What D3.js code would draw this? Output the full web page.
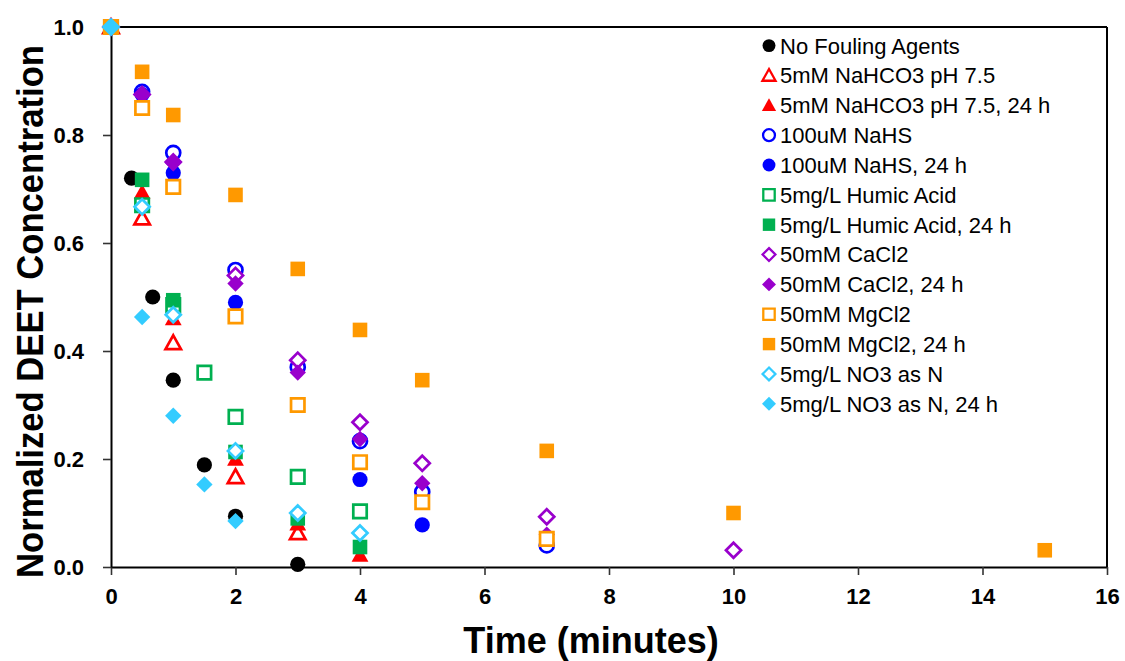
<!DOCTYPE html>
<html>
<head>
<meta charset="utf-8">
<script src="https://cdn.jsdelivr.net/npm/d3@7"></script>
<style>
  html, body { margin: 0; padding: 0; background: #fff; }
  svg { display: block; font-family: "Liberation Sans", Arial, sans-serif; }
</style>
</head>
<body>
<svg id="chart" width="1125" height="661"></svg>
<script>
// Time points (minutes) and normalized DEET concentration for each condition
const noFoulT   = [0, 0.33, 0.67, 1, 1.5, 2, 3];
const noFoulC   = [1.0, 0.72, 0.50, 0.346, 0.189, 0.094, 0.005];
const nahco3T   = [0, 0.5, 1, 2, 3];
const nahco3C   = [1.0, 0.646, 0.415, 0.167, 0.063];
const nahco324T = [0, 0.5, 1, 2, 3, 4];
const nahco324C = [1.0, 0.694, 0.46, 0.20, 0.08, 0.022];
const nahsT     = [0, 0.5, 1, 2, 3, 4, 5, 7];
const nahsC     = [1.0, 0.88, 0.767, 0.55, 0.37, 0.233, 0.139, 0.04];
const nahs24T   = [0, 0.5, 1, 2, 4, 5];
const nahs24C   = [1.0, 0.875, 0.73, 0.49, 0.162, 0.078];
const humicT    = [0, 0.5, 1, 1.5, 2, 3, 4];
const humicC    = [1.0, 0.67, 0.485, 0.36, 0.278, 0.167, 0.103];
const humic24T  = [0, 0.5, 1, 2, 3, 4];
const humic24C  = [1.0, 0.717, 0.494, 0.213, 0.09, 0.037];
const cacl2T    = [0, 0.5, 1, 2, 3, 4, 5, 7, 10];
const cacl2C    = [1.0, 0.875, 0.75, 0.54, 0.383, 0.268, 0.192, 0.093, 0.031];
const cacl224T  = [0, 0.5, 1, 2, 3, 4, 5, 7];
const cacl224C  = [1.0, 0.874, 0.748, 0.525, 0.36, 0.237, 0.155, 0.06];
const mgcl2T    = [0, 0.5, 1, 2, 3, 4, 5, 7];
const mgcl2C    = [1.0, 0.85, 0.704, 0.464, 0.30, 0.194, 0.12, 0.052];
const mgcl224T  = [0, 0.5, 1, 2, 3, 4, 5, 7, 10, 15];
const mgcl224C  = [1.0, 0.917, 0.837, 0.689, 0.552, 0.439, 0.346, 0.215, 0.10, 0.031];
const no3T      = [0, 0.5, 1, 2, 3, 4];
const no3C      = [1.0, 0.667, 0.467, 0.215, 0.10, 0.063];
const no324T    = [0, 0.5, 1, 1.5, 2];
const no324C    = [1.0, 0.463, 0.28, 0.153, 0.085];

const seriesNames = [
  "No Fouling Agents", "5mM NaHCO3 pH 7.5", "5mM NaHCO3 pH 7.5, 24 h",
  "100uM NaHS", "100uM NaHS, 24 h", "5mg/L Humic Acid", "5mg/L Humic Acid, 24 h",
  "50mM CaCl2", "50mM CaCl2, 24 h", "50mM MgCl2", "50mM MgCl2, 24 h",
  "5mg/L NO3 as N", "5mg/L NO3 as N, 24 h"
];
const xTicks = [0, 2, 4, 6, 8, 10, 12, 14, 16];
const yTicks = [0, 0.2, 0.4, 0.6, 0.8, 1.0];

// marker styling per series
const styles = [
  { shape: "circle",   color: "#000000", open: false },
  { shape: "triangle", color: "#FF0000", open: true  },
  { shape: "triangle", color: "#FF0000", open: false },
  { shape: "circle",   color: "#0000FF", open: true  },
  { shape: "circle",   color: "#0000FF", open: false },
  { shape: "square",   color: "#00B050", open: true  },
  { shape: "square",   color: "#00B050", open: false },
  { shape: "diamond",  color: "#9900CC", open: true  },
  { shape: "diamond",  color: "#9900CC", open: false },
  { shape: "square",   color: "#FF9900", open: true  },
  { shape: "square",   color: "#FF9900", open: false },
  { shape: "diamond",  color: "#33CCFF", open: true  },
  { shape: "diamond",  color: "#33CCFF", open: false }
];
const seriesT = [noFoulT, nahco3T, nahco324T, nahsT, nahs24T, humicT, humic24T,
                 cacl2T, cacl224T, mgcl2T, mgcl224T, no3T, no324T];
const seriesC = [noFoulC, nahco3C, nahco324C, nahsC, nahs24C, humicC, humic24C,
                 cacl2C, cacl224C, mgcl2C, mgcl224C, no3C, no324C];

const series = seriesNames.map((name, i) => ({
  name, ...styles[i],
  points: seriesT[i].map((t, j) => ({ t, c: seriesC[i][j] }))
}));

const svg = d3.select("#chart");
const margin = { left: 111, right: 1107, top: 27, bottom: 567 };

const x = d3.scaleLinear().domain([0, 16]).range([margin.left, margin.right]);
const y = d3.scaleLinear().domain([0, 1]).range([margin.bottom, margin.top]);

// frame (top and right edges)
svg.append("line").attr("x1", margin.left).attr("x2", margin.right)
  .attr("y1", margin.top).attr("y2", margin.top)
  .attr("stroke", "#000").attr("stroke-width", 2);
svg.append("line").attr("x1", margin.right).attr("x2", margin.right)
  .attr("y1", margin.top).attr("y2", margin.bottom)
  .attr("stroke", "#000").attr("stroke-width", 2);

// axes
const xAxis = svg.append("g")
  .attr("transform", `translate(0,${margin.bottom})`)
  .call(d3.axisBottom(x).tickValues(xTicks).tickFormat(d3.format("d"))
        .tickSizeInner(8).tickSizeOuter(0).tickPadding(13));
const yAxis = svg.append("g")
  .attr("transform", `translate(${margin.left},0)`)
  .call(d3.axisLeft(y).tickValues(yTicks).tickFormat(d3.format(".1f"))
        .tickSizeInner(8).tickSizeOuter(0).tickPadding(19));

[xAxis, yAxis].forEach(g => {
  g.select(".domain").attr("stroke", "#000").attr("stroke-width", 2);
  g.selectAll(".tick line").attr("stroke", "#333").attr("stroke-width", 1.6);
  g.selectAll(".tick text")
    .attr("fill", "#000")
    .style("font-family", "'Liberation Sans', Arial, sans-serif")
    .style("font-weight", "bold")
    .style("font-size", "22px");
});
yAxis.selectAll(".tick text").attr("dy", "0.36em");

// axis titles
svg.append("text")
  .attr("x", 591)
  .attr("y", 653)
  .attr("text-anchor", "middle")
  .style("font-weight", "bold")
  .style("font-size", "36px")
  .text("Time (minutes)");
svg.append("text")
  .attr("transform", "translate(43,311.5) rotate(-90)")
  .attr("text-anchor", "middle")
  .attr("textLength", 533)
  .attr("lengthAdjust", "spacingAndGlyphs")
  .style("font-weight", "bold")
  .style("font-size", "37px")
  .text("Normalized DEET Concentration");

// marker path builder (k scales the marker size)
function markerPath(shape, k) {
  const p = d3.path();
  if (shape === "circle") {
    const r = 7.6 * k;
    p.arc(0, 0, r, 0, 2 * Math.PI);
  } else if (shape === "square") {
    const s = 7.3 * k;
    p.rect(-s, -s, 2 * s, 2 * s);
  } else if (shape === "triangle") {
    const w = 8.4 * k, h = 15 * k;
    p.moveTo(0, -h * 0.55); p.lineTo(w, h * 0.45); p.lineTo(-w, h * 0.45); p.closePath();
  } else {
    const s = 8.2 * k;
    p.moveTo(0, -s); p.lineTo(s, 0); p.lineTo(0, s); p.lineTo(-s, 0); p.closePath();
  }
  return p.toString();
}

function styleMarker(sel, s, k) {
  sel.attr("d", markerPath(s.shape, s.open ? k * 0.92 : k))
    .attr("fill", s.open ? "#fff" : s.color)
    .attr("stroke", s.open ? s.color : "none")
    .attr("stroke-width", s.open ? 2.7 * k : 0);
}

// data markers, one group per series in legend order
const plot = svg.append("g");
series.forEach(s => {
  plot.append("g").selectAll("path")
    .data(s.points)
    .join("path")
    .attr("transform", d => `translate(${x(d.t)},${y(d.c)})`)
    .call(sel => styleMarker(sel, s, 1));
});

// legend
const legend = svg.append("g").attr("transform", "translate(769,45.6)");
const rowH = 29.85;
series.forEach((s, i) => {
  const row = legend.append("g").attr("transform", `translate(0,${i * rowH})`);
  row.append("path").call(sel => styleMarker(sel, s, 0.85));
  row.append("text")
    .attr("x", 11)
    .attr("dy", "0.36em")
    .style("font-size", "22px")
    .attr("fill", "#000")
    .text(s.name);
});
</script>
</body>
</html>
